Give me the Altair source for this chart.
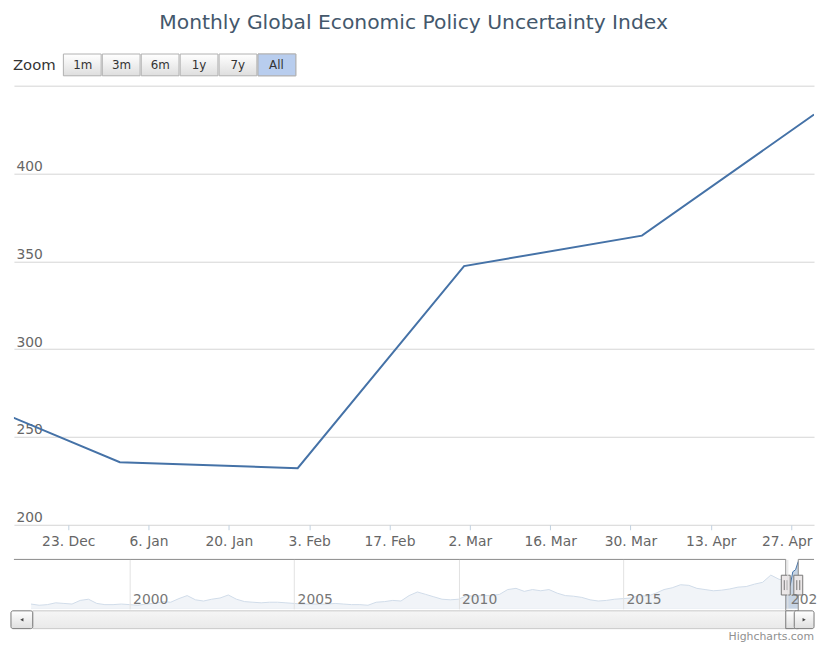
import altair as alt
import pandas as pd

FONT = "DejaVu Sans"

title_text = "Monthly Global Economic Policy Uncertainty Index"
zoom_label = "Zoom"
credits_label = "Highcharts.com"

# main series (monthly)
main_dates = ["2019-12-01", "2020-01-01", "2020-02-01", "2020-03-01", "2020-04-01", "2020-05-01"]
main_values = [278.0, 235.6, 232.2, 347.3, 364.6, 433.6]

# visible window of the main chart
view_start = (2019, 12, 13, 13)
view_end = (2020, 5, 1, 0)
view_start_day = "2019-12-14"
view_end_day = "2020-05-01"

x_tick_dates = ["2019-12-23", "2020-01-06", "2020-01-20", "2020-02-03", "2020-02-17",
                "2020-03-02", "2020-03-16", "2020-03-30", "2020-04-13", "2020-04-27"]
y_ticks = [200, 250, 300, 350, 400, 450]

zoom_buttons = ["1m", "3m", "6m", "1y", "7y", "All"]
selected_button = "All"

# navigator series (quarterly overview 1997-2019) + the recent months
nav_quarter_values = [
    80, 70, 75, 90,      # 1997
    85, 80, 110, 120,    # 1998
    85, 75, 75, 80,      # 1999
    75, 70, 80, 85,      # 2000
    100, 95, 125, 150,   # 2001
    115, 105, 120, 130,  # 2002
    155, 120, 100, 95,   # 2003
    90, 95, 95, 90,      # 2004
    85, 80, 80, 80,      # 2005
    80, 85, 80, 75,      # 2006
    75, 70, 95, 100,     # 2007
    110, 105, 150, 180,  # 2008
    160, 140, 120, 115,  # 2009
    120, 150, 145, 150,  # 2010
    150, 160, 200, 210,  # 2011
    185, 200, 190, 200,  # 2012
    170, 150, 145, 135,  # 2013
    115, 105, 110, 120,  # 2014
    125, 130, 150, 145,  # 2015
    170, 200, 215, 240,  # 2016
    235, 210, 200, 190,  # 2017
    195, 205, 220, 225,  # 2018
    245, 260, 320, 285,  # 2019
]
nav_start_day = "1996-06-25"
nav_end_day = "2020-10-23"
nav_years = [2000, 2005, 2010, 2015, 2020]


def dt(parts):
    y, m, d, h = parts
    return alt.DateTime(year=y, month=m, date=d, hours=h, utc=True)


def dts(s):
    y, m, d = [int(p) for p in s.split("-")]
    return alt.DateTime(year=y, month=m, date=d, utc=True)


quarter_days = [d.strftime("%Y-%m-%d") for d in pd.date_range("1997-01-01", periods=len(nav_quarter_values), freq="QS")]
nav_df = pd.DataFrame({"date": quarter_days + main_dates,
                       "value": nav_quarter_values + main_values})
main_df = pd.DataFrame({"date": main_dates, "value": main_values})
btn_df = pd.DataFrame({"label": zoom_buttons})

W, H, NH = 809, 444, 50

btn_grad = alt.LinearGradient(gradient="linear", x1=0, x2=0, y1=0, y2=1,
                              stops=[alt.GradientStop(color="#ffffff", offset=0),
                                     alt.GradientStop(color="#dedede", offset=1)])

# ---------------- main chart ----------------
xs = alt.Scale(type="utc", domain=[dt(view_start), dt(view_end)])
line = alt.Chart(main_df).mark_line(color="#4572A7", strokeWidth=2, clip=True).encode(
    x=alt.X("date:T", scale=xs,
            axis=alt.Axis(values=[dts(d) for d in x_tick_dates], format="%-d. %b", title=None,
                          grid=False, domain=False, ticks=True, tickSize=5, tickColor="#C0D0E0",
                          labelFontSize=14, labelColor="#666666", labelPadding=5, labelFont=FONT,
                          labelFlush=25, labelFlushOffset=21)),
    y=alt.Y("value:Q", scale=alt.Scale(domain=[200, 450], nice=False, zero=False),
            axis=alt.Axis(values=y_ticks, title=None, grid=True, gridColor="#D4D4D4",
                          domain=False, ticks=False, tickSize=0, labelAlign="left",
                          labelBaseline="alphabetic", labelPadding=-2, labelOffset=-3,
                          labelExpr="datum.value == 450 ? '' : datum.label",
                          labelFontSize=14, labelColor="#666666", labelFont=FONT)),
)

bx = alt.X("label:N", scale=alt.Scale(domain=zoom_buttons, range=[50, 285], paddingInner=0.03, paddingOuter=0),
           axis=None)
btn_rect = alt.Chart(btn_df).mark_rect(fill=btn_grad, stroke="#b0b0b0", strokeWidth=1).encode(
    x=bx, y=alt.value(-32), y2=alt.value(-10))
btn_sel = alt.Chart(btn_df).transform_filter(alt.datum.label == selected_button).mark_rect(
    fill="#b8cdee", stroke="#b0b0b0", strokeWidth=1).encode(x=bx, y=alt.value(-32), y2=alt.value(-10))
btn_text = alt.Chart(btn_df).mark_text(fontSize=12, color="#333333", font=FONT).encode(
    x=bx, y=alt.value(-21), text="label:N")
zoom_text = alt.Chart(pd.DataFrame({"t": [zoom_label]})).mark_text(
    align="left", baseline="middle", fontSize=15, color="#333333", font=FONT).encode(
    x=alt.value(-1), y=alt.value(-21), text="t:N")

main = alt.layer(line, btn_rect, btn_sel, btn_text, zoom_text).resolve_scale(x="independent").properties(
    width=W, height=H)

# ---------------- navigator ----------------
nx = alt.Scale(type="utc", domain=[dts(nav_start_day), dts(nav_end_day)])
ny = alt.Scale(domain=[40, 450], zero=False, nice=False)
nav_axis = alt.Axis(values=[dts(f"{y}-01-01") for y in nav_years], format="%Y", title=None,
                    grid=True, gridColor="#e2e2e2", domain=False, ticks=False, tickSize=0,
                    labelAlign="left", labelBaseline="alphabetic", labelPadding=-5, labelOffset=3,
                    labelFlush=False, labelFontSize=14, labelColor="#777777", labelFont=FONT,
                    zindex=1, labelExpr="datum.label == '2020' ? '202' : datum.label")

nav_area = alt.Chart(nav_df).mark_area(
    fill="#4572A7", fillOpacity=0.3, clip=True,
    line=alt.OverlayMarkDef(color="#4572A7", strokeWidth=1)).encode(
    x=alt.X("date:T", scale=nx, axis=nav_axis),
    y=alt.Y("value:Q", scale=ny, axis=None))

ranges_df = pd.DataFrame({"start": [nav_start_day, view_end_day], "end": [view_start_day, nav_end_day]})
sel_df = pd.DataFrame({"start": [view_start_day], "end": [view_end_day]})
edge_df = pd.DataFrame({"d": [view_start_day, view_end_day]})

mask = alt.Chart(ranges_df).mark_rect(fill="white", opacity=0.75).encode(
    x="start:T", x2="end:T", y=alt.value(0), y2=alt.value(NH))
outline = alt.Chart(ranges_df).mark_rule(color="#8a8a8a", strokeWidth=1).encode(
    x="start:T", x2="end:T", y=alt.value(0))
edges = alt.Chart(edge_df).mark_rule(color="#8a8a8a", strokeWidth=1).encode(
    x="d:T", y=alt.value(0), y2=alt.value(NH + 20))

one = pd.DataFrame({"k": [0]})
track = alt.Chart(one).mark_rect(
    fill=alt.LinearGradient(gradient="linear", x1=0, x2=0, y1=0, y2=1,
                            stops=[alt.GradientStop(color="#f6f6f6", offset=0),
                                   alt.GradientStop(color="#e9e9e9", offset=1)]),
    stroke="#c8c8c8", strokeWidth=1).encode(
    x=alt.value(19), x2=alt.value(787), y=alt.value(52), y2=alt.value(70))
thumb = alt.Chart(sel_df).mark_rect(fill=btn_grad, stroke="#777777", strokeWidth=1).encode(
    x="start:T", x2="end:T", y=alt.value(52), y2=alt.value(70))
lbtn = alt.Chart(one).mark_rect(fill=btn_grad, stroke="#777777", strokeWidth=1, cornerRadius=2).encode(
    x=alt.value(-3), x2=alt.value(19), y=alt.value(52), y2=alt.value(70))
rbtn = alt.Chart(one).mark_rect(fill=btn_grad, stroke="#777777", strokeWidth=1, cornerRadius=2).encode(
    x=alt.value(789), x2=alt.value(809), y=alt.value(52), y2=alt.value(70))
larrow = alt.Chart(one).mark_point(shape="triangle-left", size=14, filled=True, color="#444444", opacity=1).encode(
    x=alt.value(8), y=alt.value(61))
rarrow = alt.Chart(one).mark_point(shape="triangle-right", size=14, filled=True, color="#444444", opacity=1).encode(
    x=alt.value(799), y=alt.value(61))
handles = alt.Chart(edge_df).mark_point(
    shape="M-0.45,-1H0.45V1H-0.45ZM-0.15,-0.5V0.5M0.15,-0.5V0.5", size=400,
    fill="#ebe7e8", stroke="#777777", strokeWidth=1, fillOpacity=1, opacity=1).encode(
    x="d:T", y=alt.value(26))
credits = alt.Chart(pd.DataFrame({"t": [credits_label]})).mark_text(
    align="right", baseline="alphabetic", fontSize=11, color="#909090", font=FONT).encode(
    x=alt.value(W), y=alt.value(81), text="t:N")

nav = alt.layer(nav_area, mask, outline, edges, track, thumb, lbtn, rbtn, larrow, rarrow,
                handles, credits).properties(width=W, height=NH)

chart = alt.vconcat(main, nav, spacing=35, bounds="flush").properties(
    title=alt.Title(title_text, fontSize=20.5, color="#44586c", font=FONT, fontWeight="normal",
                    anchor="middle", offset=20),
    padding={"left": 2, "top": 2, "right": 0, "bottom": 0},
).configure(font=FONT, view=alt.ViewConfig(stroke=None))

chart.save("out.html", embed_options={"renderer": "svg", "actions": False})
